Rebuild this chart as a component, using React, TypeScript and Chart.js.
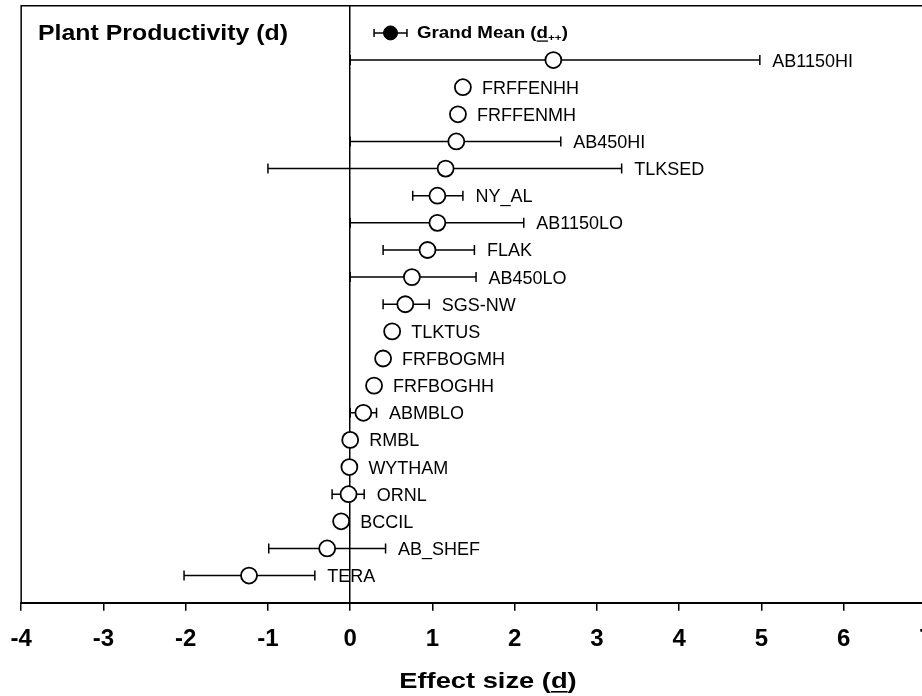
import React, { useEffect, useRef } from "react";
import { Chart, registerables } from "chart.js";

Chart.register(...registerables);

// ---------- data (top row first) ----------
const siteNames = [
  "AB1150HI", "FRFFENHH", "FRFFENMH", "AB450HI", "TLKSED", "NY_AL", "AB1150LO",
  "FLAK", "AB450LO", "SGS-NW", "TLKTUS", "FRFBOGMH", "FRFBOGHH", "ABMBLO",
  "RMBL", "WYTHAM", "ORNL", "BCCIL", "AB_SHEF", "TERA",
];
const effectMeans = [
  2.47, 1.37, 1.31, 1.29, 1.16, 1.06, 1.06, 0.94, 0.75, 0.67, 0.51, 0.4, 0.29,
  0.16, 0.0, -0.01, -0.02, -0.11, -0.28, -1.23,
];
const ciLower: (number | null)[] = [
  0, null, null, 0, -1.0, 0.76, 0, 0.4, 0, 0.4, null, null, null, 0, null, null,
  -0.22, null, -0.99, -2.02,
];
const ciUpper: (number | null)[] = [
  4.98, null, null, 2.56, 3.3, 1.37, 2.11, 1.51, 1.53, 0.96, null, null, null,
  0.32, null, null, 0.17, null, 0.43, -0.43,
];
const grandMean = 0.49;
const grandLower = 0.29;
const grandUpper = 0.69;
const xTickValues = [-4, -3, -2, -1, 0, 1, 2, 3, 4, 5, 6, 7];
const chartTitle = "Plant Productivity (d)";
const grandLabel = "Grand Mean";
const axisTitleText = "Effect size";
const dSymbol = "d";

const FONT = "'Liberation Sans', Arial, Helvetica, sans-serif";

function rowY(i: number) {
  return siteNames.length - i;
}

function drawStretched(
  ctx: CanvasRenderingContext2D,
  text: string,
  x: number,
  y: number,
  font: string,
  sx: number
) {
  ctx.save();
  ctx.font = font;
  const w = ctx.measureText(text).width * sx;
  ctx.translate(x, y);
  ctx.scale(sx, 1);
  ctx.fillText(text, 0, 0);
  ctx.restore();
  return w;
}

function measureStretched(ctx: CanvasRenderingContext2D, text: string, font: string, sx: number) {
  ctx.save();
  ctx.font = font;
  const w = ctx.measureText(text).width * sx;
  ctx.restore();
  return w;
}

const framePlugin = {
  id: "frame",
  beforeDatasetsDraw(chart: any) {
    const { ctx, chartArea } = chart;
    ctx.save();
    ctx.strokeStyle = "#000";
    ctx.lineWidth = 1.5;
    ctx.beginPath();
    ctx.moveTo(chartArea.left, chartArea.bottom);
    ctx.lineTo(chartArea.left, chartArea.top);
    ctx.lineTo(chart.width, chartArea.top);
    ctx.stroke();
    ctx.restore();
  },
};

const textPlugin = {
  id: "texts",
  afterDatasetsDraw(chart: any) {
    const { ctx } = chart;
    const xs = chart.scales.x;
    const ys = chart.scales.y;
    ctx.save();
    ctx.fillStyle = "#000";
    ctx.textAlign = "left";
    ctx.textBaseline = "alphabetic";

    // site labels
    const labelFont = `18px ${FONT}`;
    siteNames.forEach((name, i) => {
      const py = ys.getPixelForValue(rowY(i));
      const pm = xs.getPixelForValue(effectMeans[i]);
      const hi = ciUpper[i];
      let px = pm + 19;
      if (hi !== null) px = Math.max(px, xs.getPixelForValue(hi) + 12.5);
      drawStretched(ctx, name, px, py + 6.5, labelFont, 1.0);
    });

    // grand mean label
    const gy = ys.getPixelForValue(siteNames.length + 1);
    const gFont = `bold 16px ${FONT}`;
    const gsx = 1.17;
    let gx = xs.getPixelForValue(grandUpper) + 10;
    const gb = gy + 5.5;
    gx += drawStretched(ctx, grandLabel + " (", gx, gb, gFont, gsx);
    const dw = drawStretched(ctx, dSymbol, gx, gb, gFont, gsx);
    ctx.fillRect(gx, gb + 2, dw, 1.3);
    gx += dw;
    gx += drawStretched(ctx, "++", gx, gb + 3, `bold 9px ${FONT}`, 1.3);
    drawStretched(ctx, ")", gx, gb, gFont, gsx);

    // title
    drawStretched(ctx, chartTitle, 42, 44, `bold 22px ${FONT}`, 1.13);

    // axis title
    const aFont = `bold 22px ${FONT}`;
    const asx = 1.24;
    const part1 = axisTitleText + " (";
    const total =
      measureStretched(ctx, part1, aFont, asx) +
      measureStretched(ctx, dSymbol, aFont, asx) +
      measureStretched(ctx, ")", aFont, asx);
    let ax = 492 - total / 2;
    const ab = 692;
    ax += drawStretched(ctx, part1, ax, ab, aFont, asx);
    const adw = drawStretched(ctx, dSymbol, ax, ab, aFont, asx);
    ctx.fillRect(ax, ab + 3, adw, 1.6);
    ax += adw;
    drawStretched(ctx, ")", ax, ab, aFont, asx);

    ctx.restore();
  },
};

export default function App() {
  const canvasRef = useRef<HTMLCanvasElement | null>(null);

  useEffect(() => {
    if (!canvasRef.current) return;
    Chart.defaults.color = "#000";

    const lineDatasets: any[] = [];
    const capPoints: { x: number; y: number }[] = [];
    siteNames.forEach((_, i) => {
      const lo = ciLower[i];
      const hi = ciUpper[i];
      if (lo !== null && hi !== null) {
        lineDatasets.push({
          data: [
            { x: lo, y: rowY(i) },
            { x: hi, y: rowY(i) },
          ],
          showLine: true,
          borderColor: "#000",
          borderWidth: 1.5,
          pointRadius: 0,
          order: 5,
        });
        capPoints.push({ x: lo, y: rowY(i) }, { x: hi, y: rowY(i) });
      }
    });
    const gRow = siteNames.length + 1;
    lineDatasets.push({
      data: [
        { x: grandLower, y: gRow },
        { x: grandUpper, y: gRow },
      ],
      showLine: true,
      borderColor: "#000",
      borderWidth: 1.5,
      pointRadius: 0,
      order: 5,
    });

    const datasets: any[] = [
      ...lineDatasets,
      {
        data: capPoints,
        pointStyle: "line",
        rotation: 90,
        pointRadius: 5,
        borderColor: "#000",
        borderWidth: 1.5,
        order: 3,
      },
      {
        data: [
          { x: grandLower, y: gRow },
          { x: grandUpper, y: gRow },
        ],
        pointStyle: "line",
        rotation: 90,
        pointRadius: 4,
        borderColor: "#000",
        borderWidth: 1.5,
        order: 3,
      },
      {
        data: effectMeans.map((m, i) => ({ x: m, y: rowY(i) })),
        pointStyle: "circle",
        pointRadius: 8,
        backgroundColor: "#fff",
        borderColor: "#000",
        borderWidth: 1.8,
        order: 1,
      },
      {
        data: [{ x: grandMean, y: gRow }],
        pointStyle: "circle",
        pointRadius: 7,
        backgroundColor: "#000",
        borderColor: "#000",
        borderWidth: 1,
        order: 0,
      },
    ];

    const chart = new Chart(canvasRef.current, {
      type: "scatter",
      data: { datasets },
      options: {
        animation: false,
        responsive: false,
        events: [],
        layout: { padding: { left: 18.5, top: 2, right: 30, bottom: 27.5 } },
        plugins: {
          legend: { display: false },
          tooltip: { enabled: false },
          title: { display: false },
        },
        scales: {
          x: {
            type: "linear",
            position: "bottom",
            min: -4,
            max: 7,
            afterBuildTicks: (scale: any) => {
              scale.ticks = xTickValues.map((v) => ({ value: v }));
            },
            ticks: {
              autoSkip: false,
              maxRotation: 0,
              padding: 14.5,
              color: "#000",
              font: { family: FONT, weight: "bold", size: 24 },
            },
            grid: {
              drawOnChartArea: true,
              color: (c: any) => (c.tick && c.tick.value === 0 ? "#000" : "rgba(0,0,0,0)"),
              lineWidth: 1.5,
              tickColor: "#000",
              tickLength: 8,
              tickWidth: 1.5,
            },
            border: { display: true, color: "#000", width: 2 },
          },
          y: {
            type: "linear",
            min: 0,
            max: 22,
            display: false,
          },
        },
      },
      plugins: [framePlugin, textPlugin],
    });
    return () => chart.destroy();
  }, []);

  return (
    <div
      style={{
        position: "fixed",
        left: 0,
        top: 0,
        width: 922,
        height: 696,
        overflow: "hidden",
        background: "#fff",
      }}
    >
      <canvas
        ref={canvasRef}
        width={960}
        height={700}
        style={{ display: "block", width: 960, height: 700, marginTop: -4, marginLeft: -4 }}
      />
    </div>
  );
}
